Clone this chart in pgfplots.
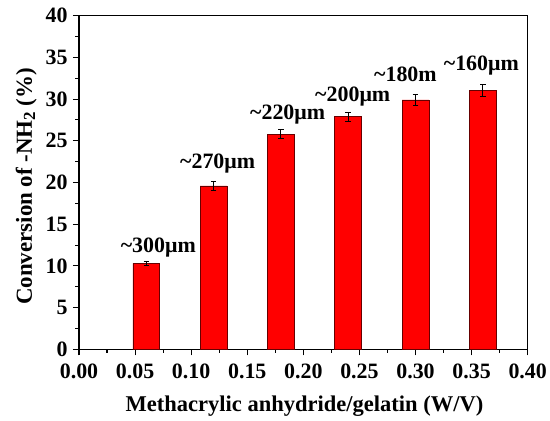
\documentclass[border=0pt]{standalone}
\usepackage{pgfplots}
\pgfplotsset{compat=1.18}
\usepackage{fontspec}
\setmainfont{Liberation Serif}
\newcommand{\tl}{\char126\relax}
\begin{document}
\fontsize{22}{26}\selectfont\bfseries
\begin{tikzpicture}
\useasboundingbox (-79bp,-71.7bp) rectangle (471bp,349.3bp);
\begin{axis}[
  at={(0,0)}, anchor=south west,
  scale only axis,
  width=448.7bp, height=333.6bp,
  xmin=0, xmax=0.4, ymin=0, ymax=40,
  xtick={0,0.05,...,0.4},
  minor x tick num=1,
  ytick={0,5,...,40},
  minor y tick num=1,
  xticklabels={0.00,0.05,0.10,0.15,0.20,0.25,0.30,0.35,0.40},
  tick align=outside,
  xtick pos=bottom, ytick pos=left,
  major tick length=6bp, minor tick length=3.5bp,
  tick style={black, line width=1.1pt},
  axis line style={line width=1.1pt},
  /pgf/number format/assume math mode=true,
  ticklabel style={font=\fontsize{22}{26}\selectfont\bfseries},
  xticklabel style={yshift=-1bp},
  yticklabel style={xshift=2bp},
  clip=false,
]
\addplot[ybar, bar width=0.024, fill=red, draw=black!60!red, line width=0.6pt,
  error bars/.cd, y dir=both, y explicit,
  error bar style={black, line width=1pt},
  error mark options={rotate=90, mark size=2.8bp, line width=1pt, black}]
  coordinates {
  (0.06,10.3) +- (0,0.25)
  (0.12,19.6) +- (0,0.5)
  (0.18,25.8) +- (0,0.5)
  (0.24,27.9) +- (0,0.55)
  (0.30,29.9) +- (0,0.7)
  (0.36,31.0) +- (0,0.7)
  };
\node[anchor=base] at (axis cs:0.0707,11.6) {\tl300μm};
\node[anchor=base] at (axis cs:0.1236,21.7) {\tl270μm};
\node[anchor=base] at (axis cs:0.186,27.5) {\tl220μm};
\node[anchor=base] at (axis cs:0.244,29.7) {\tl200μm};
\node[anchor=base] at (axis cs:0.291,32.1) {\tl180m};
\node[anchor=base] at (axis cs:0.3587,33.4) {\tl160μm};
\end{axis}
\node[anchor=base, font=\fontsize{22.6}{26}\selectfont\bfseries] at (225.5bp,-62.4bp) {Methacrylic anhydride/gelatin (W/V)};
\node[anchor=base, rotate=90, font=\fontsize{23}{26}\selectfont\bfseries] at (-47bp,163bp) {Conversion of -NH\raisebox{-0.3ex}{\fontsize{17}{20}\selectfont 2} (\%)};
\end{tikzpicture}
\end{document}
